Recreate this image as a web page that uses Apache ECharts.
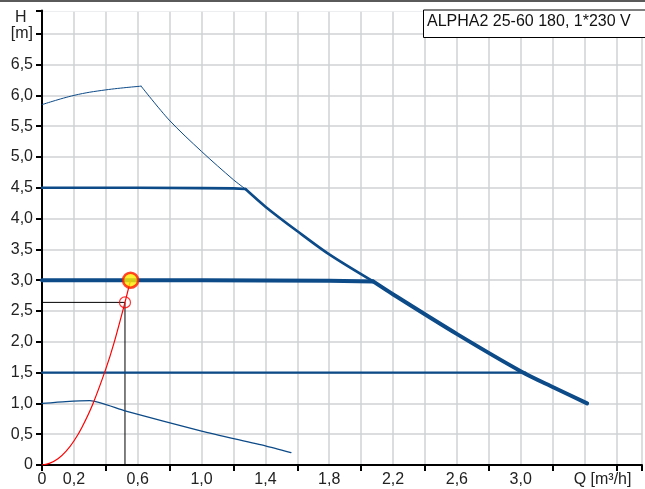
<!DOCTYPE html>
<html>
<head>
<meta charset="utf-8">
<script src="https://cdn.jsdelivr.net/npm/echarts@6/dist/echarts.min.js"></script>
<style>
html,body{margin:0;padding:0;background:#fff;}
#c{width:645px;height:489px;}
</style>
</head>
<body>
<div id="c"></div>
<script>
// ---- data (Q in m3/h, H in m) ----
var titleText = 'ALPHA2 25-60 180, 1*230 V';
var yUnitLabel = '[m]';
var yName = 'H';
var xUnitLabel = 'Q [m³/h]';

// max speed curve: rising part, then falling part
var maxCurveRise = [[0,5.85],[0.2,6.0],[0.4,6.09],[0.621,6.15]];
var maxCurveFall = [[0.621,6.15],[0.797,5.6],[1.0,5.09],[1.2,4.63],[1.275,4.48]];
// constant-pressure curves: flat part
var cp45Flat = [[0,4.5],[0.6,4.5],[1.0,4.495],[1.2,4.49],[1.275,4.48]];
var cp30Flat = [[0,3.0],[1.0,3.0],[1.8,2.99],[2.075,2.98]];
var cp15Flat = [[0,1.5],[3.03,1.5]];
// shared falling segments of the max curve, drawn with the matching curve width
var fall45 = [[1.275,4.48],[1.402,4.19],[1.603,3.79],[1.805,3.41],[2.075,2.98]];
var fall30 = [[2.075,2.98],[2.206,2.76],[2.604,2.12],[3.005,1.515],[3.21,1.255],[3.416,1.0]];
// min speed curve
var minCurve = [[0,1.0],[0.15,1.03],[0.3,1.045],[0.52,0.88],[1.0,0.55],[1.4,0.31],[1.56,0.2]];
// system curve and operating points
var systemCurve = [[0,0],[0.05,0.03],[0.1,0.1],[0.15,0.22],[0.2,0.39],[0.25,0.61],[0.32,1.0],[0.4,1.56],[0.45,1.97],[0.52,2.64],[0.555,3.0]];
var dutyPoint = [[0.555,3.0]];
var readPoint = [[0.52,2.64]];
var readLines = [[0,2.64],[0.52,2.64],[0.52,0]];

var xLabelValues = [0,0.2,0.6,1.0,1.4,1.8,2.2,2.6,3.0];
var xUnitAt = 3.4;
var yUnitAt = 7.0;

// ---- chart ----
var blue = '#0c4a88';
var font = 'Liberation Sans';
var fs = 16;
function near(a,b){return Math.abs(a-b)<1e-6;}
function fmt(v){ return v===0 ? '0' : v.toFixed(1).replace('.',','); }
function blueLine(data,w,z,smooth){
  return {type:'line',data:data,symbol:'none',smooth:smooth||false,lineStyle:{color:blue,width:w,cap:'round',join:'round'},z:z};
}

var chart = echarts.init(document.getElementById('c'), null, {renderer:'canvas'});
chart.setOption({
  animation:false,
  backgroundColor:'#fff',
  grid:{left:42,right:-1.6,top:10.4,bottom:24,containLabel:false},
  xAxis:[{
    type:'value',min:0,max:3.76,interval:0.2,
    axisLine:{show:true,onZero:false,lineStyle:{color:'#000',width:2}},
    axisTick:{show:false},
    splitLine:{show:true,lineStyle:{color:'#cfd2d4',width:1.5}},
    axisLabel:{
      margin:7,color:'#222',fontSize:fs,fontFamily:font,
      formatter:function(v){
        if(near(v,xUnitAt)) return '{q|'+xUnitLabel+'}';
        for(var i=0;i<xLabelValues.length;i++){ if(near(v,xLabelValues[i])) return fmt(xLabelValues[i]); }
        return '';
      },
      rich:{q:{fontSize:fs,fontFamily:font,color:'#222',padding:[0,0,0,36]}}
    }
  },{
    type:'value',min:0,max:3.76,interval:0.4,position:'bottom',
    axisLine:{show:false},
    axisTick:{show:true,length:6,lineStyle:{color:'#000',width:2}},
    axisLabel:{show:false},
    splitLine:{show:false}
  }],
  yAxis:{
    type:'value',min:0,max:7.38,interval:0.5,
    axisLine:{show:true,onZero:false,lineStyle:{color:'#000',width:2}},
    axisTick:{show:true,length:6,lineStyle:{color:'#000',width:2}},
    splitLine:{show:true,lineStyle:{color:'#cfd2d4',width:1.5}},
    axisLabel:{
      margin:9,color:'#222',fontSize:fs,fontFamily:font,
      formatter:function(v){
        if(near(v,yUnitAt)) return yUnitLabel;
        if(v>yUnitAt) return '';
        return fmt(v);
      }
    }
  },
  graphic:[
    {type:'rect',shape:{x:43.2,y:9.4,width:381,height:2},style:{fill:'#fff'},z:99},
    {type:'rect',left:0,top:0,shape:{width:645,height:2},style:{fill:'#5a5a5a'},z:100},
    {type:'text',x:15,y:18,style:{text:yName,fontSize:fs,fontFamily:font,fill:'#222',verticalAlign:'middle'},z:100},
    {type:'rect',shape:{x:423.5,y:10,width:230,height:27.5},style:{fill:'#fff',stroke:'#000',lineWidth:1},z:100},
    {type:'text',x:427,y:21.5,style:{text:titleText,fontSize:fs,fontFamily:font,fill:'#111',verticalAlign:'middle'},z:101}
  ],
  series:[
    {type:'line',data:readLines,symbol:'none',lineStyle:{color:'#000',width:1},z:2,silent:true},
    blueLine(maxCurveRise,1,3,0.4),
    blueLine(maxCurveFall,1,3,0.3),
    blueLine(minCurve,1.3,3,0.2),
    blueLine(cp15Flat,2.2,4),
    blueLine(cp45Flat,2.6,4),
    blueLine(fall45,2.6,4,0.3),
    blueLine(cp30Flat,4,5),
    blueLine(fall30,4,5,0.3),
    {type:'line',data:systemCurve,symbol:'none',smooth:0.3,lineStyle:{color:'#ff0000',width:1.2},z:6},
    {type:'scatter',data:readPoint,symbol:'circle',symbolSize:11,itemStyle:{color:'rgba(0,0,0,0)',borderColor:'#ff0000',borderWidth:1.2},z:7},
    {type:'scatter',data:dutyPoint,symbol:'circle',symbolSize:15,itemStyle:{color:'#ffee00',borderColor:'#ff1a00',borderWidth:2.5},z:8}
  ]
});
</script>
</body>
</html>
